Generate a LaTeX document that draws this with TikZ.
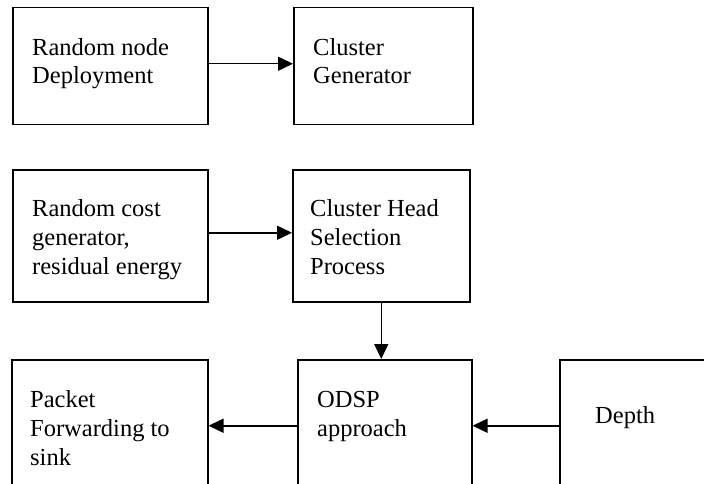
\documentclass[tikz,border=0pt]{standalone}
\usepackage{fontspec}
\setmainfont{Liberation Serif}
\usetikzlibrary{arrows.meta,calc}
\begin{document}
\begin{tikzpicture}[x=1pt,y=1pt,
  box/.style={draw,line width=1.5pt,rectangle,inner sep=0pt,anchor=north west},
  txt/.style={inner sep=0pt,anchor=base west,align=left,font=\fontsize{24.5}{28.8}\selectfont},
  arr/.style={line width=1.5pt,-{Triangle[length=15pt,width=14pt]}}]
\useasboundingbox (0,0) rectangle (704,-484);
\clip (0,0) rectangle (704,-484);
\fill[white] (0,0) rectangle (704,-484);
% boxes
\node[box,minimum width=195pt,minimum height=117pt] (b1) at (12,-7) {};
\node[box,minimum width=179pt,minimum height=117pt] (b2) at (293,-7) {};
\node[box,minimum width=195pt,minimum height=132pt] (b3) at (12,-169) {};
\node[box,minimum width=177pt,minimum height=132pt] (b4) at (292,-169) {};
\node[box,minimum width=196pt,minimum height=132pt] (b5) at (11,-359) {};
\node[box,minimum width=174pt,minimum height=132pt] (b6) at (297,-359) {};
\node[box,minimum width=180pt,minimum height=132pt] (b7) at (559,-359) {};
% texts (anchored at the baseline of the last line)
\node[txt] (t1) at (32,-84) {Random node\\Deployment};
\node[txt] (t2) at (313,-84) {Cluster\\Generator};
\node[txt] (t3) at (32,-274) {Random cost\\generator,\\residual energy};
\node[txt] (t4) at (310,-274) {Cluster Head\\Selection\\Process};
\node[txt] (t5) at (30,-465) {Packet\\Forwarding to\\sink};
\node[txt] (t6) at (317,-436) {ODSP\\approach};
\node[txt] (t7) at (595,-423) {Depth};
% connectors
\draw[arr] ([yshift=2.5pt]b1.east) -- ([yshift=2.5pt]b1.east -| b2.west);
\draw[arr] ([yshift=3pt]b3.east) -- ([yshift=3pt]b3.east -| b4.west);
\draw[arr] (b4.south) -- (b4.south |- b6.north);
\draw[arr] (b6.west) -- (b5.east);
\draw[arr] (b7.west) -- (b6.east);
\end{tikzpicture}
\end{document}
